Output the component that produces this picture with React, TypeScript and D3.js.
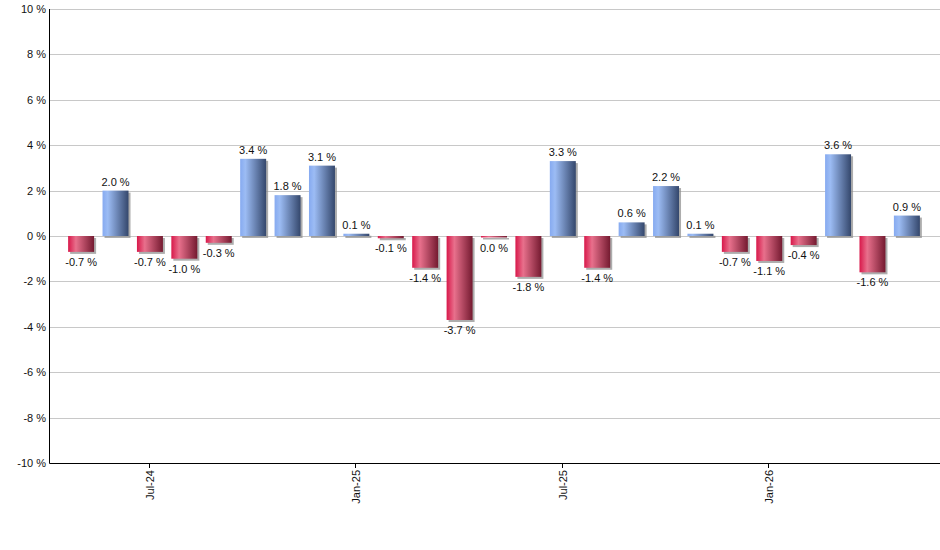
import { useEffect, useRef } from "react";
import * as d3 from "d3";

const months = [
  "May-24", "Jun-24", "Jul-24", "Aug-24", "Sep-24", "Oct-24", "Nov-24", "Dec-24",
  "Jan-25", "Feb-25", "Mar-25", "Apr-25", "May-25", "Jun-25", "Jul-25", "Aug-25",
  "Sep-25", "Oct-25", "Nov-25", "Dec-25", "Jan-26", "Feb-26", "Mar-26", "Apr-26", "May-26",
];
// May-25 is a tiny negative month shown as 0.0 %
const returns = [
  -0.7, 2.0, -0.7, -1.0, -0.3, 3.4, 1.8, 3.1,
  0.1, -0.1, -1.4, -3.7, -0.04, -1.8, 3.3, -1.4,
  0.6, 2.2, 0.1, -0.7, -1.1, -0.4, 3.6, -1.6, 0.9,
];
const xTickLabels = ["Jul-24", "Jan-25", "Jul-25", "Jan-26"];
const yTicks = [-10, -8, -6, -4, -2, 0, 2, 4, 6, 8, 10];

const fmt = (v: number) => {
  const s = v.toFixed(1);
  return (s === "-0.0" ? "0.0" : s) + " %";
};

export default function App() {
  const ref = useRef<SVGSVGElement>(null);

  useEffect(() => {
    if (!ref.current) return;
    const svg = d3.select(ref.current);
    svg.selectAll("*").remove();

    const W = 940, H = 550;
    const m = { left: 50, right: 0, top: 9, bottom: 87 };
    const font = "Liberation Sans, Arial, sans-serif";

    const defs = svg.append("defs");
    const blue = defs.append("linearGradient").attr("id", "gBlue")
      .attr("x1", "0%").attr("x2", "100%").attr("y1", "0%").attr("y2", "0%");
    blue.append("stop").attr("offset", "0%").attr("stop-color", "#86aaf0");
    blue.append("stop").attr("offset", "20%").attr("stop-color", "#9cbcf4");
    blue.append("stop").attr("offset", "100%").attr("stop-color", "#34476c");
    const red = defs.append("linearGradient").attr("id", "gRed")
      .attr("x1", "0%").attr("x2", "100%").attr("y1", "0%").attr("y2", "0%");
    red.append("stop").attr("offset", "0%").attr("stop-color", "#d8184a");
    red.append("stop").attr("offset", "30%").attr("stop-color", "#e8708c");
    red.append("stop").attr("offset", "100%").attr("stop-color", "#741a30");

    const x = d3.scaleBand<string>().domain(months)
      .range([m.left + 14, W - 16]).paddingInner(0.245).paddingOuter(0.12);
    const y = d3.scaleLinear().domain([-10, 10]).range([H - m.bottom, m.top]);

    // gridlines
    svg.append("g").selectAll("line").data(yTicks).join("line")
      .attr("x1", m.left).attr("x2", W)
      .attr("y1", (d) => Math.round(y(d)) + 0.5).attr("y2", (d) => Math.round(y(d)) + 0.5)
      .attr("stroke", "#c8c8c8").attr("stroke-width", 1);

    // y labels
    svg.append("g").selectAll("text").data(yTicks).join("text")
      .attr("x", m.left - 4).attr("y", (d) => y(d) + 4)
      .attr("text-anchor", "end").attr("font-family", font).attr("font-size", 11)
      .attr("fill", "#111").text((d) => `${d} %`);

    const bw = x.bandwidth();
    const bars = svg.append("g");
    months.forEach((mo, i) => {
      const v = returns[i];
      const x0 = x(mo)!;
      const yTop = y(Math.max(0, v));
      const h = Math.max(1.5, Math.abs(y(v) - y(0)));
      bars.append("rect").attr("x", x0 + 2).attr("y", yTop + 2).attr("width", bw).attr("height", h)
        .attr("fill", "#8a8a8a").attr("opacity", 0.7);
      bars.append("rect").attr("x", x0).attr("y", yTop).attr("width", bw).attr("height", h)
        .attr("fill", v >= 0 ? "url(#gBlue)" : "url(#gRed)");
      bars.append("text")
        .attr("x", x0 + bw / 2)
        .attr("y", v >= 0 ? y(v) - 5 : Math.max(y(v), y(0) + 1.5) + 14)
        .attr("text-anchor", "middle").attr("font-family", font).attr("font-size", 11)
        .attr("fill", "#111").text(fmt(v));
    });

    // axes
    svg.append("line").attr("x1", m.left - 0.5).attr("x2", m.left - 0.5)
      .attr("y1", m.top).attr("y2", y(-10) + 0.5).attr("stroke", "#000");
    svg.append("line").attr("x1", m.left - 0.5).attr("x2", W)
      .attr("y1", Math.round(y(-10)) + 0.5).attr("y2", Math.round(y(-10)) + 0.5).attr("stroke", "#000");

    const xt = svg.append("g");
    xTickLabels.forEach((lab) => {
      const cx = Math.round(x(lab)! + bw / 2) - 0.5;
      const yb = Math.round(y(-10));
      xt.append("line").attr("x1", cx).attr("x2", cx).attr("y1", yb).attr("y2", yb + 5)
        .attr("stroke", "#000");
      xt.append("text")
        .attr("transform", `translate(${cx + 4},${yb + 7}) rotate(-90)`)
        .attr("text-anchor", "end").attr("font-family", font).attr("font-size", 11)
        .attr("fill", "#111").text(lab);
    });
  }, []);

  return (
    <svg ref={ref} width={940} height={550}
      style={{ position: "absolute", left: 0, top: 0, background: "#fff" }} />
  );
}
